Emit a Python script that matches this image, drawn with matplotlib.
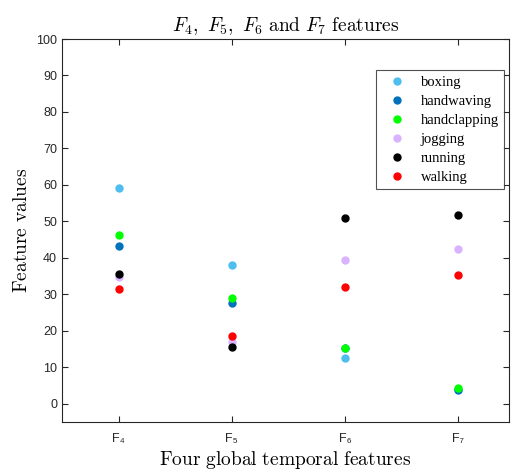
import matplotlib
matplotlib.use("Agg")
import matplotlib.pyplot as plt

features = ["F\u2084", "F\u2085", "F\u2086", "F\u2087"]
classes = ["boxing", "handwaving", "handclapping", "jogging", "running", "walking"]
colors = ["#4DBEEE", "#0072BD", "#00FF00", "#D9B3FF", "#000000", "#FF0000"]

boxing = [59.2, 38.1, 12.5, 4.0]
handwaving = [43.3, 27.5, 15.2, 3.9]
handclapping = [46.2, 29.0, 15.3, 4.2]
jogging = [34.8, 17.0, 39.4, 42.5]
running = [35.6, 15.6, 50.8, 51.8]
walking = [31.5, 18.5, 32.0, 35.3]
series = [boxing, handwaving, handclapping, jogging, running, walking]

plt.rcParams["mathtext.fontset"] = "cm"

fig = plt.figure(figsize=(5.11, 4.73), dpi=100)
ax = fig.add_axes([0.1213, 0.1078, 0.8747, 0.8097])

xs = list(range(1, len(features) + 1))
for name, vals, c in zip(classes, series, colors):
    ax.plot(xs, vals, "o", color=c, markersize=5, label=name, linestyle="none")

ax.set_xlim(0.5, 4.45)
ax.set_ylim(-5, 100)
ax.set_xticks(xs)
ax.set_xticklabels(features, fontsize=10.5, family=["Liberation Sans", "DejaVu Sans"])
ax.set_yticks(range(0, 101, 10))
ax.tick_params(direction="in", top=True, right=True, labelsize=9, colors="#262626",
               length=4, width=0.8)
ax.tick_params(axis="x", pad=8)
for lab in ax.get_yticklabels():
    lab.set_family("Liberation Sans")
for s in ax.spines.values():
    s.set_color("#262626")
    s.set_linewidth(0.8)

ax.set_title(r"$F_4,\ F_5,\ F_6\ \mathrm{and}\ F_7\ \mathrm{features}$", fontsize=14, pad=6)
ax.set_xlabel(r"$\mathrm{Four\ global\ temporal\ features}$", fontsize=14, labelpad=3)
ax.set_ylabel(r"$\mathrm{Feature\ values}$", fontsize=14, labelpad=4)

leg = ax.legend(loc="upper right", bbox_to_anchor=(0.9885, 0.918), frameon=True, fancybox=False,
                prop={"family": "Liberation Serif", "size": 10.5}, handletextpad=0.5,
                labelspacing=0.4, borderpad=0.35, handlelength=2.2, borderaxespad=0)
leg.get_frame().set_edgecolor("#262626")
leg.get_frame().set_linewidth(0.8)

fig.savefig("out.png", dpi=100)
